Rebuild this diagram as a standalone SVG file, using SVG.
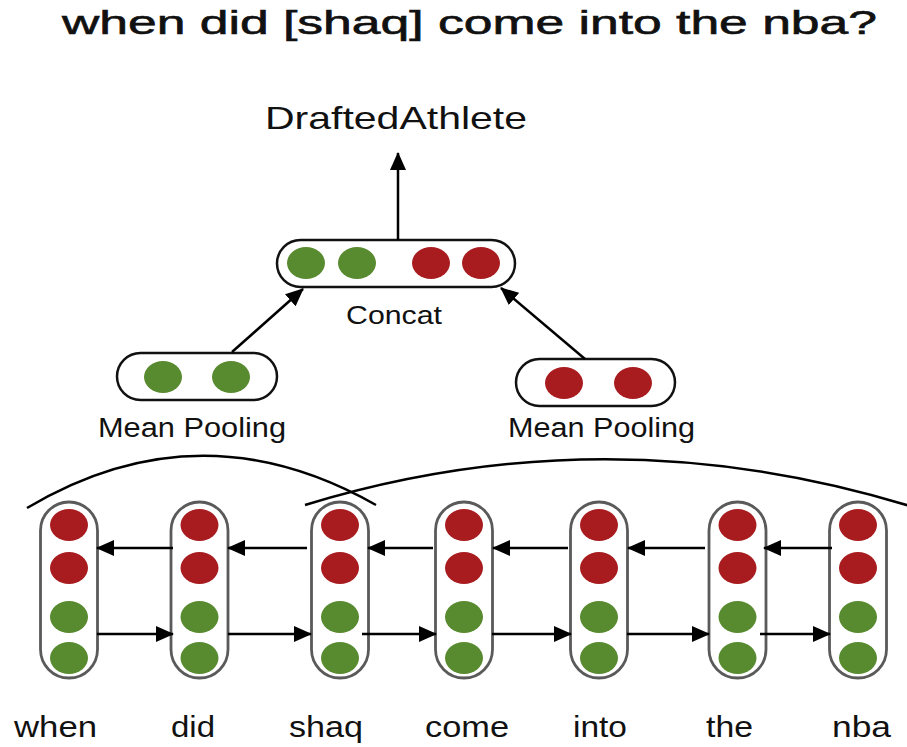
<svg xmlns="http://www.w3.org/2000/svg" width="907" height="747" viewBox="0 0 907 747">
  <style>
    .txt { font-family: "Liberation Sans", Arial, sans-serif; fill: #111; }
    .g { fill: #588a2f; }
    .r { fill: #a81c1f; }
    .cap { fill: #fff; stroke: #111; stroke-width: 2.5; }
    .col { fill: #fff; stroke: #5a5a5a; stroke-width: 2.8; }
    .edge { stroke: #000; stroke-width: 2.5; fill: none; }
    .arc { stroke: #000; stroke-width: 2.5; fill: none; }
  </style>
  <defs>
    <marker id="head" viewBox="0 0 18 16" refX="17" refY="8" markerWidth="18" markerHeight="16" markerUnits="userSpaceOnUse" orient="auto">
      <path d="M0,0 L18,8 L0,16 Z" fill="#000"/>
    </marker>
    <g id="column">
      <rect class="col" x="-28.5" y="0" width="57" height="176" rx="28.5"/>
      <ellipse class="r" cx="0" cy="23" rx="19" ry="16"/>
      <ellipse class="r" cx="0" cy="66" rx="19" ry="16"/>
      <ellipse class="g" cx="0" cy="115" rx="19" ry="16"/>
      <ellipse class="g" cx="0" cy="156" rx="19" ry="16"/>
    </g>
  </defs>

  <rect width="907" height="747" fill="#fff"/>

  <!-- question -->
  <text class="txt" x="62" y="34" font-size="34" stroke="#111" stroke-width="0.6" textLength="815" lengthAdjust="spacingAndGlyphs">when did [shaq] come into the nba?</text>

  <!-- output label -->
  <g id="label-output">
    <text class="txt" x="265" y="129" font-size="32" textLength="262" lengthAdjust="spacingAndGlyphs">DraftedAthlete</text>
  </g>

  <!-- concat node -->
  <g id="concat">
    <rect class="cap" x="277" y="240" width="238" height="47" rx="23.5"/>
    <ellipse class="g" cx="306" cy="263" rx="19" ry="16"/>
    <ellipse class="g" cx="357" cy="263" rx="19" ry="16"/>
    <ellipse class="r" cx="431" cy="263" rx="19" ry="16"/>
    <ellipse class="r" cx="481" cy="263" rx="19" ry="16"/>
    <text class="txt" x="346" y="324" font-size="26" textLength="96" lengthAdjust="spacingAndGlyphs">Concat</text>
  </g>

  <!-- mean pooling nodes -->
  <g id="pool-left">
    <rect class="cap" x="117" y="353" width="160" height="47" rx="23.5"/>
    <ellipse class="g" cx="163" cy="377" rx="19" ry="16"/>
    <ellipse class="g" cx="231" cy="377" rx="19" ry="16"/>
    <text class="txt" x="98" y="437" font-size="27" textLength="188" lengthAdjust="spacingAndGlyphs">Mean Pooling</text>
  </g>
  <g id="pool-right">
    <rect class="cap" x="516" y="359" width="159" height="47" rx="23.5"/>
    <ellipse class="r" cx="564" cy="383" rx="19" ry="16"/>
    <ellipse class="r" cx="633" cy="383" rx="19" ry="16"/>
    <text class="txt" x="508" y="437" font-size="27" textLength="187" lengthAdjust="spacingAndGlyphs">Mean Pooling</text>
  </g>

  <!-- token columns -->
  <g id="tok-when"><use href="#column" x="69" y="502"/></g>
  <g id="tok-did"><use href="#column" x="199.5" y="502"/></g>
  <g id="tok-shaq"><use href="#column" x="340" y="502"/></g>
  <g id="tok-come"><use href="#column" x="464" y="502"/></g>
  <g id="tok-into"><use href="#column" x="599" y="502"/></g>
  <g id="tok-the"><use href="#column" x="737.5" y="502"/></g>
  <g id="tok-nba"><use href="#column" x="858" y="502"/></g>

  <!-- words -->
  <g id="words" class="txt" font-size="29">
    <text x="14" y="737" textLength="83" lengthAdjust="spacingAndGlyphs">when</text>
    <text x="171" y="737" textLength="44" lengthAdjust="spacingAndGlyphs">did</text>
    <text x="289" y="737" textLength="74" lengthAdjust="spacingAndGlyphs">shaq</text>
    <text x="425" y="737" textLength="84" lengthAdjust="spacingAndGlyphs">come</text>
    <text x="573" y="737" textLength="54" lengthAdjust="spacingAndGlyphs">into</text>
    <text x="706" y="737" textLength="47" lengthAdjust="spacingAndGlyphs">the</text>
    <text x="832" y="737" textLength="59" lengthAdjust="spacingAndGlyphs">nba</text>
  </g>

  <!-- connectors -->
  <g id="connectors">
    <line class="edge" x1="398" y1="240" x2="398" y2="153" marker-end="url(#head)"/>
    <line class="edge" x1="232" y1="352" x2="303" y2="289" marker-end="url(#head)"/>
    <line class="edge" x1="585" y1="359" x2="501" y2="288" marker-end="url(#head)"/>

    <!-- backward chain -->
    <line class="edge" x1="173" y1="548" x2="97" y2="548" marker-end="url(#head)"/>
    <line class="edge" x1="307" y1="548" x2="228" y2="548" marker-end="url(#head)"/>
    <line class="edge" x1="433" y1="548" x2="368" y2="548" marker-end="url(#head)"/>
    <line class="edge" x1="568" y1="548" x2="493" y2="548" marker-end="url(#head)"/>
    <line class="edge" x1="705" y1="548" x2="628" y2="548" marker-end="url(#head)"/>
    <line class="edge" x1="832" y1="548" x2="764" y2="548" marker-end="url(#head)"/>

    <!-- forward chain -->
    <line class="edge" x1="97" y1="634" x2="173" y2="634" marker-end="url(#head)"/>
    <line class="edge" x1="228" y1="634" x2="311" y2="634" marker-end="url(#head)"/>
    <line class="edge" x1="362" y1="634" x2="436" y2="634" marker-end="url(#head)"/>
    <line class="edge" x1="492" y1="634" x2="571" y2="634" marker-end="url(#head)"/>
    <line class="edge" x1="627" y1="634" x2="709" y2="634" marker-end="url(#head)"/>
    <line class="edge" x1="760" y1="634" x2="830" y2="634" marker-end="url(#head)"/>

    <!-- span arcs -->
    <path class="arc" d="M27,508 Q200,405 376,505"/>
    <path class="arc" d="M305,505 Q606,413 910,506"/>
  </g>
</svg>
